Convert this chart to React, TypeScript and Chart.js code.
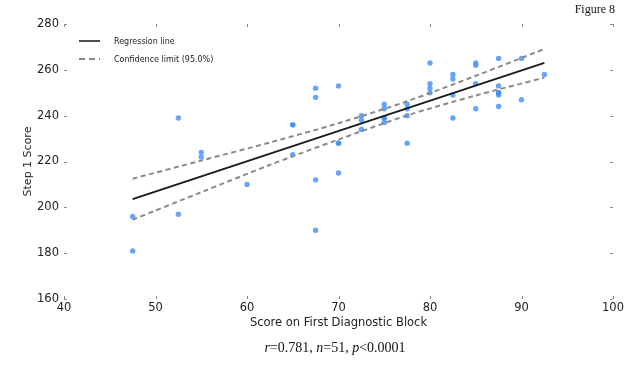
import React, { useEffect, useRef } from "react";
import { Chart, registerables } from "chart.js";

Chart.register(...registerables);

// Observed scores (x = first diagnostic block, y = Step 1)
const scoreX = [
  47.5, 47.5, 52.5, 52.5, 55, 55, 60, 65, 65, 65, 67.5, 67.5, 67.5, 67.5, 70, 70, 70, 70,
  72.5, 72.5, 72.5, 75, 75, 75, 75, 75, 77.5, 77.5, 77.5, 77.5, 80, 80, 80, 80,
  82.5, 82.5, 82.5, 82.5, 85, 85, 85, 85, 87.5, 87.5, 87.5, 87.5, 87.5, 87.5, 90, 90, 92.5,
];
const step1Y = [
  196, 181, 239, 197, 224, 222, 210, 236, 236, 223, 252, 248, 212, 190, 253, 228, 228, 215,
  240, 238, 234, 245, 243, 239, 239, 237, 245, 243, 240, 228, 263, 254, 252, 250,
  258, 256, 249, 239, 263, 262, 254, 243, 265, 253, 250, 250, 249, 244, 265, 247, 258,
];

// Regression line end points
const fitX = [47.5, 92.5];
const fitY = [203.6, 263.0];

// Confidence limits (95.0%)
const ciX = [47.5, 55, 62.5, 70, 77.5, 85, 92.5];
const ciUpper = [212.5, 220.4, 228.3, 236.7, 246.3, 257.4, 269.1];
const ciLower = [194.6, 206.6, 218.5, 229.6, 240.1, 248.8, 256.6];

// Axis ticks
const xTicks = [40, 50, 60, 70, 80, 90, 100];
const yTicks = [160, 180, 200, 220, 240, 260, 280];

const legendLabels = ["Regression line", "Confidence limit (95.0%)"];

const SANS = "'DejaVu Sans', sans-serif";

const tickMarks = {
  id: "tickMarks",
  afterDraw(chart: any) {
    const { ctx, chartArea, scales } = chart;
    const { left, right, top, bottom } = chartArea;
    ctx.save();
    ctx.strokeStyle = "#888";
    ctx.lineWidth = 1;
    ctx.beginPath();
    scales.x.ticks.forEach((t: any) => {
      const px = Math.round(scales.x.getPixelForValue(t.value)) + 0.5;
      ctx.moveTo(px, bottom);
      ctx.lineTo(px, bottom - 3);
      ctx.moveTo(px, top);
      ctx.lineTo(px, top + 3);
    });
    scales.y.ticks.forEach((t: any) => {
      const py = Math.round(scales.y.getPixelForValue(t.value)) + 0.5;
      ctx.moveTo(left, py);
      ctx.lineTo(left + 3, py);
      ctx.moveTo(right, py);
      ctx.lineTo(right - 3, py);
    });
    ctx.stroke();

    // legend inside the plot
    const lx = left + 15;
    const ly = top + 17;
    ctx.font = `8px ${SANS}`;
    ctx.textBaseline = "middle";
    ctx.textAlign = "left";
    ctx.fillStyle = "#222";
    ctx.strokeStyle = "#222";
    ctx.lineWidth = 1.6;
    ctx.setLineDash([]);
    ctx.beginPath();
    ctx.moveTo(lx, ly);
    ctx.lineTo(lx + 21, ly);
    ctx.stroke();
    ctx.fillText(legendLabels[0], lx + 35, ly + 1);
    ctx.strokeStyle = "#888";
    ctx.lineWidth = 2;
    ctx.setLineDash([6, 4]);
    ctx.beginPath();
    ctx.moveTo(lx, ly + 18);
    ctx.lineTo(lx + 21, ly + 18);
    ctx.stroke();
    ctx.setLineDash([]);
    ctx.fillText(legendLabels[1], lx + 35, ly + 19);
    ctx.restore();
  },
};

export default function App() {
  const ref = useRef<HTMLCanvasElement | null>(null);

  useEffect(() => {
    if (!ref.current) return;
    const chart = new Chart(ref.current, {
      type: "scatter",
      data: {
        datasets: [
          {
            label: "Scores",
            data: scoreX.map((x, i) => ({ x, y: step1Y[i] })),
            backgroundColor: "rgba(66,145,252,0.82)",
            borderWidth: 0,
            pointRadius: 2.7,
            order: 3,
          },
          {
            label: "Confidence upper",
            type: "line",
            data: ciX.map((x, i) => ({ x, y: ciUpper[i] })),
            borderColor: "#8a8a8a",
            borderWidth: 2,
            borderDash: [5, 3.5],
            pointRadius: 0,
            tension: 0.3,
            fill: false,
            order: 1,
          },
          {
            label: "Confidence lower",
            type: "line",
            data: ciX.map((x, i) => ({ x, y: ciLower[i] })),
            borderColor: "#8a8a8a",
            borderWidth: 2,
            borderDash: [5, 3.5],
            pointRadius: 0,
            tension: 0.3,
            fill: false,
            order: 1,
          },
          {
            label: "Regression line",
            type: "line",
            data: fitX.map((x, i) => ({ x, y: fitY[i] })),
            borderColor: "#1a1a1a",
            borderWidth: 1.8,
            pointRadius: 0,
            fill: false,
            order: 0,
          },
        ],
      },
      options: {
        animation: false,
        responsive: false,
        devicePixelRatio: 1,
        layout: { padding: { left: 22, top: 24, right: 19, bottom: 40 } },
        plugins: { legend: { display: false }, tooltip: { enabled: false } },
        scales: {
          x: {
            type: "linear",
            min: 40,
            max: 100,
            afterBuildTicks: (s: any) => {
              s.ticks = xTicks.map((v) => ({ value: v }));
            },
            afterFit: (s: any) => {
              s.height = 35;
            },
            grid: { display: false, drawTicks: false },
            border: { display: false },
            ticks: { padding: 2, color: "#222", font: { family: SANS, size: 11.5 } },
            title: {
              display: true,
              text: "Score on First Diagnostic Block",
              color: "#222",
              font: { family: SANS, size: 11.5 },
              padding: { top: 0, bottom: 4 },
            },
          },
          y: {
            type: "linear",
            min: 160,
            max: 280,
            afterBuildTicks: (s: any) => {
              s.ticks = yTicks.map((v) => ({ value: v }));
            },
            afterFit: (s: any) => {
              s.width = 42;
            },
            grid: { display: false, drawTicks: false },
            border: { display: false },
            ticks: { padding: 5, color: "#222", font: { family: SANS, size: 11.5 } },
            title: {
              display: true,
              text: "Step 1 Score",
              color: "#222",
              font: { family: SANS, size: 11 },
              padding: { top: 0, bottom: 0 },
            },
          },
        },
      },
      plugins: [tickMarks],
    });
    return () => chart.destroy();
  }, []);

  return (
    <div style={{ position: "absolute", left: 0, top: 0, width: 632, height: 374, background: "#fff" }}>
      <canvas ref={ref} width={632} height={374} style={{ position: "absolute", left: 0, top: 0 }} />
      <div
        style={{
          position: "absolute",
          right: 17,
          top: 2,
          fontFamily: "'Liberation Serif', serif",
          fontSize: 12,
          color: "#111",
        }}
      >
        Figure 8
      </div>
      <div
        style={{
          position: "absolute",
          left: 0,
          width: 670,
          top: 340,
          textAlign: "center",
          fontFamily: "'Liberation Serif', serif",
          fontSize: 14,
          color: "#111",
        }}
      >
        <i>r</i>=0.781, <i>n</i>=51, <i>p</i>&lt;0.0001
      </div>
    </div>
  );
}
